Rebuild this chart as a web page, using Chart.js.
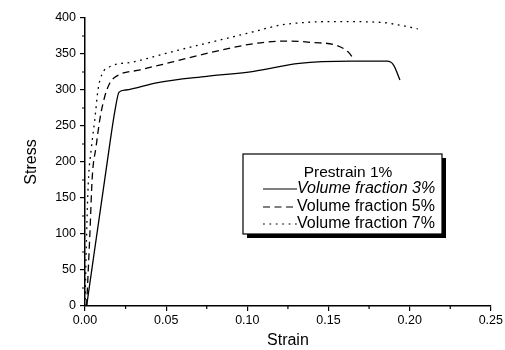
<!DOCTYPE html>
<html>
<head>
<meta charset="utf-8">
<script src="https://cdn.jsdelivr.net/npm/chart.js@4/dist/chart.umd.min.js"></script>
<style>
  body { margin: 0; background: #fff; }
  #wrap { width: 505px; height: 350px; }
</style>
</head>
<body>
<div id="wrap"><canvas id="stressChart"></canvas></div>
<script>
// volume fraction 3%
const strain3 = [0.001, 0.013, 0.0185, 0.021, 0.025, 0.044, 0.075, 0.104, 0.132, 0.164, 0.186, 0.190, 0.194];
const stress3 = [0, 189, 272, 297, 300, 310, 319, 326, 337, 340, 340, 335, 314];
// volume fraction 5%
const strain5 = [0.001, 0.003, 0.0045, 0.0068, 0.0092, 0.0123, 0.0154, 0.02, 0.034, 0.054, 0.079, 0.106, 0.125, 0.140, 0.155, 0.162, 0.165];
const stress5 = [0, 100, 180, 221, 260, 292, 310, 320, 328, 339, 353, 365, 368, 366, 362, 353, 345];
// volume fraction 7%
const strain7 = [0, 0.001, 0.002, 0.004, 0.006, 0.008, 0.0105, 0.015, 0.030, 0.050, 0.075, 0.104, 0.120, 0.137, 0.157, 0.182, 0.194, 0.205];
const stress7 = [0, 100, 170, 221, 258, 300, 322, 332, 339, 351, 365, 381, 390, 394, 395, 394, 390, 385];

const legendTitle = "Prestrain 1%";
const seriesNames = ["Volume fraction 3%", "Volume fraction 5%", "Volume fraction 7%"];
const dashes = [[], [7, 4.5], [1.8, 4.6]];

const xTicks = [0, 0.05, 0.10, 0.15, 0.20, 0.25];
const yTicks = [0, 50, 100, 150, 200, 250, 300, 350, 400];

const toPoints = (xs, ys) => xs.map((x, i) => ({ x: x, y: ys[i] }));

const font = "'Liberation Sans', Arial, sans-serif";

// minor ticks halfway between the major ones
const minorTicks = {
  id: "minorTicks",
  afterDraw(chart) {
    const ctx = chart.ctx;
    const xs = chart.scales.x, ys = chart.scales.y;
    ctx.save();
    ctx.strokeStyle = "#000";
    ctx.lineWidth = 1.2;
    ctx.beginPath();
    for (let i = 0; i < yTicks.length - 1; i++) {
      const py = ys.getPixelForValue((yTicks[i] + yTicks[i + 1]) / 2);
      ctx.moveTo(xs.left - 3, py);
      ctx.lineTo(xs.left, py);
    }
    for (let i = 0; i < xTicks.length - 1; i++) {
      const px = xs.getPixelForValue((xTicks[i] + xTicks[i + 1]) / 2);
      ctx.moveTo(px, ys.bottom);
      ctx.lineTo(px, ys.bottom + 3);
    }
    ctx.stroke();
    ctx.restore();
  }
};

// boxed legend with a drop shadow inside the plot
const boxLegend = {
  id: "boxLegend",
  afterDraw(chart) {
    const ctx = chart.ctx;
    const left = 243, top = 154, w = 199, h = 80;
    ctx.save();
    ctx.fillStyle = "#000";
    ctx.fillRect(left + 4, top + 4, w, h);
    ctx.fillStyle = "#fff";
    ctx.fillRect(left, top, w, h);
    ctx.strokeStyle = "#000";
    ctx.lineWidth = 1.2;
    ctx.strokeRect(left, top, w, h);

    ctx.fillStyle = "#000";
    ctx.textBaseline = "middle";
    ctx.textAlign = "center";
    ctx.font = "15.5px " + font;
    ctx.fillText(legendTitle, 348, 173);

    const rows = [189, 207, 224];
    ctx.textAlign = "left";
    seriesNames.forEach((name, i) => {
      ctx.setLineDash(dashes[i]);
      ctx.lineWidth = 1.2;
      ctx.beginPath();
      ctx.moveTo(263, rows[i]);
      ctx.lineTo(297, rows[i]);
      ctx.stroke();
      ctx.setLineDash([]);
      ctx.font = (i === 0 ? "italic " : "") + "16px " + font;
      ctx.fillText(name, 297, rows[i]);
    });
    ctx.restore();
  }
};

const lineStyle = (dash) => ({
  borderColor: "#000",
  borderWidth: 1.3,
  borderDash: dash,
  pointRadius: 0,
  showLine: true,
  fill: false,
  cubicInterpolationMode: "monotone"
});

new Chart(document.getElementById("stressChart"), {
  type: "scatter",
  data: {
    datasets: [
      Object.assign({ label: seriesNames[0], data: toPoints(strain3, stress3) }, lineStyle(dashes[0])),
      Object.assign({ label: seriesNames[1], data: toPoints(strain5, stress5) }, lineStyle(dashes[1])),
      Object.assign({ label: seriesNames[2], data: toPoints(strain7, stress7) }, lineStyle(dashes[2]))
    ]
  },
  options: {
    responsive: true,
    maintainAspectRatio: false,
    animation: false,
    layout: { padding: { top: 18, right: 14, left: 0, bottom: 0 } },
    plugins: { legend: { display: false }, tooltip: { enabled: false } },
    scales: {
      x: {
        type: "linear",
        min: 0,
        max: 0.25,
        afterFit(scale) { scale.height = 44; },
        ticks: {
          stepSize: 0.05,
          color: "#000",
          font: { family: font, size: 12.5 },
          padding: 2,
          callback: (v) => v.toFixed(2)
        },
        grid: { drawOnChartArea: false, drawTicks: true, tickLength: 5, color: "#000", lineWidth: 1.2 },
        border: { display: true, color: "#000", width: 1.5 },
        title: { display: true, text: "Strain", color: "#000", font: { family: font, size: 16 }, padding: 0 }
      },
      y: {
        min: 0,
        max: 400,
        afterFit(scale) { scale.width = 85; },
        ticks: {
          stepSize: 50,
          color: "#000",
          font: { family: font, size: 12.5 },
          padding: 4
        },
        grid: { drawOnChartArea: false, drawTicks: true, tickLength: 5, color: "#000", lineWidth: 1.2 },
        border: { display: true, color: "#000", width: 1.5 },
        title: { display: true, text: "Stress", color: "#000", font: { family: font, size: 16 }, padding: { top: 22, bottom: 0 } }
      }
    }
  },
  plugins: [minorTicks, boxLegend]
});
</script>
</body>
</html>
